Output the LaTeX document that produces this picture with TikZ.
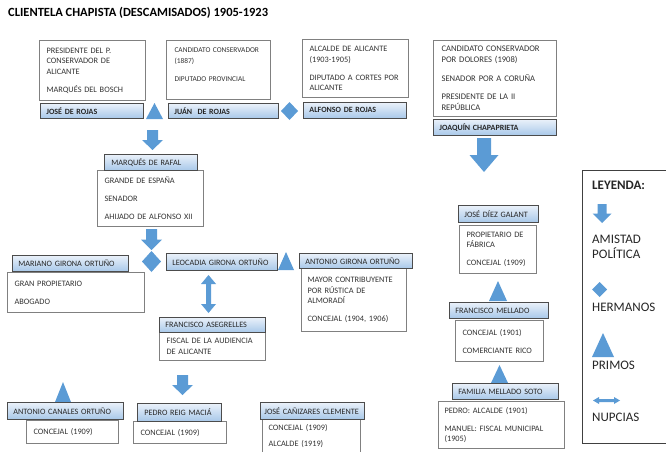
\documentclass[tikz,border=0pt]{standalone}
\usepackage{fontspec}
\setmainfont{Carlito}
\usetikzlibrary{shadows}
\definecolor{azul}{RGB}{91,155,213}
\definecolor{barratop}{RGB}{234,241,250}
\definecolor{barra}{RGB}{168,200,233}

\begin{document}
\begin{tikzpicture}[x=1pt,y=-1pt,
    caja/.style={draw=black!50, line width=1.1pt, fill=white, anchor=north west, inner xsep=7pt, inner ysep=0pt, align=left, text=black!80, font=\fontsize{8.3}{10.5}\selectfont},
    nombre/.style={draw=black!70, line width=.8pt, top color=barratop, bottom color=barra, anchor=north west, inner xsep=6pt, inner ysep=0pt, align=left, text=black!85, font=\fontsize{8.2}{10}\selectfont, drop shadow={shadow xshift=1pt, shadow yshift=-1pt, opacity=.35}},
    negrita/.style={font=\fontsize{8}{10}\selectfont\bfseries},
    ley/.style={anchor=west, inner sep=0pt, text=black!85, font=\fontsize{13}{15}\selectfont},
    pics/amistad/.style n args={3}{code={\fill[azul] (-#3/2,0) -- (#3/2,0) -- (#3/2,#2/2) -- (#1/2,#2/2) -- (0,#2) -- (-#1/2,#2/2) -- (-#3/2,#2/2) -- cycle;}},
    pics/primos/.style n args={2}{code={\fill[azul] (0,0) -- (#1/2,#2) -- (-#1/2,#2) -- cycle;}},
    pics/hermanos/.style n args={2}{code={\fill[azul] (0,-#2/2) -- (#1/2,0) -- (0,#2/2) -- (-#1/2,0) -- cycle;}},
    pics/nupcias/.style n args={4}{code={\fill[azul] (-#1/2,0) -- (-#1/2+#4,-#2/2) -- (-#1/2+#4,-#3/2) -- (#1/2-#4,-#3/2) -- (#1/2-#4,-#2/2) -- (#1/2,0) -- (#1/2-#4,#2/2) -- (#1/2-#4,#3/2) -- (-#1/2+#4,#3/2) -- (-#1/2+#4,#2/2) -- cycle;}}]
    \clip (0,0) rectangle (666,452);
    \node[anchor=west, inner sep=0pt, font=\fontsize{12.5}{14}\selectfont\bfseries] (titulo) at (8,13) {CLIENTELA CHAPISTA (DESCAMISADOS) 1905-1923};
    % los Rojas
    \node[caja, text width=92pt, minimum height=60pt] (rojasJinfo) at (39,40) {PRESIDENTE DEL P.\\CONSERVADOR DE\\ALICANTE\\[7.5pt]MARQUÉS DEL BOSCH};
    \node[caja, text width=94pt, minimum height=59pt, inner xsep=5pt, font=\fontsize{7.4}{10.5}\selectfont] (rojasJuinfo) at (166,40) {\hspace{3pt}CANDIDATO CONSERVADOR\\\hspace{3pt}(1887)\\[7.5pt]\hspace{3pt}DIPUTADO PROVINCIAL\\\mbox{}};
    \node[caja, text width=92pt, minimum height=58pt] (rojasAinfo) at (302,39) {ALCALDE DE ALICANTE\\(1903-1905)\\[7.5pt]DIPUTADO A CORTES POR\\ALICANTE};
    \node[nombre, negrita, text width=91pt, minimum height=15pt] (rojasJ) at (40,103) {JOSÉ DE ROJAS};
    \node[nombre, negrita, text width=98pt, minimum height=15pt] (rojasJu) at (168,103) {JUÁN\ \ DE ROJAS};
    \node[nombre, negrita, text width=91pt, minimum height=16pt] (rojasA) at (303,102) {ALFONSO DE ROJAS};
    \pic (primos1) at (154.5,103) {primos={17}{16}};
    \pic (hermanos1) at (289.5,111) {hermanos={17}{18}};
    % Chapaprieta
    \node[caja, text width=107pt, minimum height=76pt, inner xsep=8pt, font=\fontsize{8.6}{11}\selectfont] (chapainfo) at (433,40) {CANDIDATO CONSERVADOR\\POR DOLORES (1908)\\[7.5pt]SENADOR POR A CORUÑA\\[7.5pt]PRESIDENTE DE LA II\\REPÚBLICA};
    \node[nombre, negrita, text width=111pt, minimum height=16pt] (chapa) at (433,119) {JOAQUÍN CHAPAPRIETA};
    \pic (amistad1) at (484,138) {amistad={29}{34}{14}};
    % Rafal y los Girona
    \pic (amistad2) at (152.5,130) {amistad={21}{20}{11}};
    \node[caja, text width=92pt, minimum height=56pt] (rafalinfo) at (97,170) {GRANDE DE ESPAÑA\\[7.5pt]SENADOR\\[7.5pt]AHIJADO DE ALFONSO XII};
    \node[nombre, text width=79pt, minimum height=16pt, inner xsep=7pt] (rafal) at (104,154) {MARQUÉS DE RAFAL};
    \pic (amistad3) at (151.5,229) {amistad={21}{21}{11}};
    \pic (hermanos2) at (151.5,261.5) {hermanos={19}{21}};
    \node[caja, text width=123pt, minimum height=40pt] (marianoinfo) at (7,272) {GRAN PROPIETARIO\\[7.5pt]ABOGADO};
    \node[nombre, text width=104pt, minimum height=16pt] (mariano) at (12,255) {MARIANO GIRONA ORTUÑO};
    \node[nombre, text width=99pt, minimum height=17pt] (leocadia) at (166,253) {LEOCADIA GIRONA ORTUÑO};
    \pic (primos2) at (286,252) {primos={16}{18}};
    \node[caja, text width=93pt, minimum height=63pt, inner xsep=6pt] (antonioGinfo) at (301,268) {MAYOR CONTRIBUYENTE\\POR RÚSTICA DE\\ALMORADÍ\\[7.5pt]CONCEJAL (1904, 1906)};
    \node[nombre, text width=101pt, minimum height=15pt] (antonioG) at (299,253) {ANTONIO GIRONA ORTUÑO};
    \pic[rotate=90] (nupcias1) at (208.5,294) {nupcias={38}{15}{5}{9}};
    \node[caja, text width=92pt, minimum height=28pt] (asegrellesinfo) at (159,332) {FISCAL DE LA AUDIENCIA\\DE ALICANTE};
    \node[nombre, text width=94pt, minimum height=15pt] (asegrelles) at (159,317) {FRANCISCO ASEGRELLES};
    \pic (amistad4) at (182.5,375) {amistad={21}{20}{11}};
    % fila de abajo
    \pic (primos3) at (63,382) {primos={16}{20}};
    \node[caja, text width=78pt, minimum height=23pt] (canalesinfo) at (26,420) {CONCEJAL (1909)};
    \node[nombre, text width=104pt, minimum height=17pt] (canales) at (7,402) {ANTONIO CANALES ORTUÑO};
    \node[caja, text width=79pt, minimum height=22pt] (reiginfo) at (133,421) {CONCEJAL (1909)};
    \node[nombre, text width=70pt, minimum height=18pt, inner xsep=7pt] (reig) at (137,403) {PEDRO REIG MACIÁ};
    \node[caja, text width=86pt, minimum height=64pt, inner xsep=6pt] (canizaresinfo) at (262,419) {CONCEJAL (1909)\\[5.5pt]ALCALDE (1919)\\[5.5pt]\mbox{}\\[5.5pt]\mbox{}};
    \node[nombre, text width=96pt, minimum height=17pt, inner xsep=4pt] (canizares) at (260,402) {JOSÉ CAÑIZARES CLEMENTE};
    % los Mellado
    \node[caja, text width=63pt, minimum height=48pt] (diezinfo) at (459,225) {PROPIETARIO DE\\FÁBRICA\\[7.5pt]CONCEJAL (1909)};
    \node[nombre, text width=68pt, minimum height=17pt] (diez) at (458,205) {JOSÉ DÍEZ GALANT};
    \pic (primos4) at (498,281) {primos={18}{20}};
    \node[caja, text width=74pt, minimum height=41pt] (melladoinfo) at (455,320) {CONCEJAL (1901)\\[7.5pt]COMERCIANTE RICO};
    \node[nombre, text width=87pt, minimum height=16pt] (mellado) at (449,302) {FRANCISCO MELLADO};
    \pic (primos5) at (499.5,365) {primos={17}{18}};
    \node[caja, text width=114pt, minimum height=47pt, inner xsep=6pt] (familiainfo) at (438,401) {PEDRO: ALCALDE (1901)\\[7.5pt]MANUEL: FISCAL MUNICIPAL\\(1905)};
    \node[nombre, text width=94pt, minimum height=16pt] (familia) at (452,383) {FAMILIA MELLADO SOTO};
    % leyenda
    \node[draw=black!75, line width=1.1pt, anchor=north west, minimum width=95pt, minimum height=273pt] (leyenda) at (582,170) {};
    \node[ley, font=\fontsize{13}{15}\selectfont\bfseries] (leytitulo) at (592,185) {LEYENDA:};
    \pic (leyamistad) at (602,204) {amistad={19}{19}{9}};
    \node[ley, align=left] (leyamistadtxt) at (592,247) {AMISTAD\\POLÍTICA};
    \pic (leyhermanos) at (599.5,289.5) {hermanos={15}{15}};
    \node[ley] (leyhermanostxt) at (592,307) {HERMANOS};
    \pic (leyprimos) at (603,333) {primos={22}{24}};
    \node[ley] (leyprimostxt) at (592,365) {PRIMOS};
    \pic (leynupcias) at (606.5,400.5) {nupcias={27}{7}{3}{6}};
    \node[ley] (leynupciastxt) at (592,417) {NUPCIAS};
\end{tikzpicture}
\end{document}
